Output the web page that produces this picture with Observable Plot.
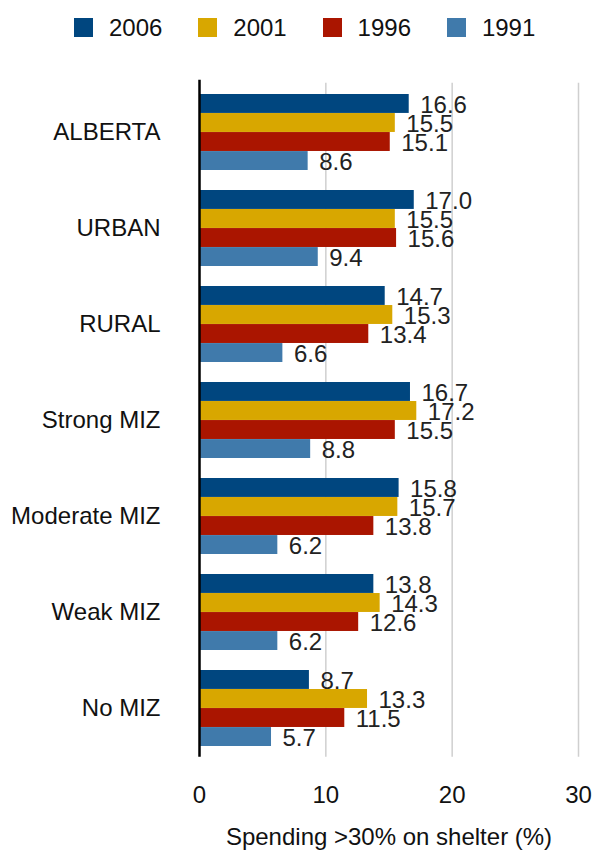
<!DOCTYPE html>
<html>
<head>
<meta charset="utf-8">
<script src="https://cdn.jsdelivr.net/npm/d3@7"></script>
<script src="https://cdn.jsdelivr.net/npm/@observablehq/plot@0.6"></script>
<style>
  html, body { margin: 0; padding: 0; background: #fff; }
  body { width: 593px; height: 852px; position: relative; overflow: hidden;
         font-family: "Liberation Sans", Arial, Helvetica, sans-serif; }
  #legend { position: absolute; left: 74px; top: 18px; display: flex; height: 19px; }
  .item { display: flex; align-items: center; width: 124.3px; height: 19px; }
  .sw { width: 19px; height: 19px; margin-right: 16px; flex: none; }
  .lab { font-size: 24px; color: #111; line-height: 19px; }
  #chart { position: absolute; left: 0; top: 60px; }
</style>
</head>
<body>
<div id="legend"></div>
<div id="chart"></div>
<script>
const categories = ["ALBERTA", "URBAN", "RURAL", "Strong MIZ", "Moderate MIZ", "Weak MIZ", "No MIZ"];
const years = ["2006", "2001", "1996", "1991"];
const colors = ["#00467F", "#D8A700", "#AA1500", "#407AAB"];
const v2006 = [16.6, 17.0, 14.7, 16.7, 15.8, 13.8, 8.7];
const v2001 = [15.5, 15.5, 15.3, 17.2, 15.7, 14.3, 13.3];
const v1996 = [15.1, 15.6, 13.4, 15.5, 13.8, 12.6, 11.5];
const v1991 = [8.6, 9.4, 6.6, 8.8, 6.2, 6.2, 5.7];
const xTicks = [0, 10, 20, 30];
const axisTitle = "Spending >30% on shelter (%)";

const series = [v2006, v2001, v1996, v1991];
const rows = [];
years.forEach((yr, i) => categories.forEach((c, j) => rows.push({category: c, year: yr, yi: i, value: series[i][j]})));

// legend
const legend = document.getElementById("legend");
years.forEach((yr, i) => {
  const it = document.createElement("div");
  it.className = "item";
  it.innerHTML = `<div class="sw" style="background:${colors[i]}"></div><div class="lab">${yr}</div>`;
  legend.appendChild(it);
});

// layout
const W = 593, H = 792;
const mTop = 22.7, mBottom = 95.3, mLeft = 199, mRight = 15;
const pInner = 0.21, pOuter = 0.104;
const frameH = H - mTop - mBottom;
const step = frameH / (categories.length - pInner + 2 * pOuter);
const bandH = step * (1 - pInner);
const slot = bandH / years.length;

const marks = [
  Plot.ruleX(xTicks.filter(d => d > 0), {stroke: "#cfcfcf", strokeWidth: 1.5})
];
years.forEach((yr, i) => {
  const data = rows.filter(d => d.yi === i);
  marks.push(Plot.barX(data, {
    x: "value", y: "category", fill: colors[i],
    insetTop: i * slot, insetBottom: (years.length - 1 - i) * slot
  }));
});
marks.push(Plot.ruleX([0], {stroke: "#000", strokeWidth: 2.5, insetTop: -3}));
years.forEach((yr, i) => {
  const data = rows.filter(d => d.yi === i);
  marks.push(Plot.text(data, {
    x: "value", y: "category", text: d => d3.format(".1f")(d.value),
    textAnchor: "start", dx: 11, dy: -bandH / 2 + slot * (i + 0.5) + 1,
    fill: "#222", fontSize: 24
  }));
});

const plot = Plot.plot({
  width: W, height: H,
  marginTop: mTop, marginBottom: mBottom, marginLeft: mLeft, marginRight: mRight,
  style: {fontFamily: "'Liberation Sans', Arial, Helvetica, sans-serif", fontSize: "24px", color: "#111", background: "transparent", overflow: "visible"},
  x: {domain: [0, 30], ticks: xTicks, tickSize: 0, tickPadding: 29, tickFormat: d3.format("d"),
      label: axisTitle, labelAnchor: "center", labelOffset: 88, labelArrow: "none"},
  y: {domain: categories, paddingInner: pInner, paddingOuter: pOuter, align: 0.5,
      tickSize: 0, tickPadding: 39, label: null},
  marks
});
document.getElementById("chart").appendChild(plot);
</script>
</body>
</html>
